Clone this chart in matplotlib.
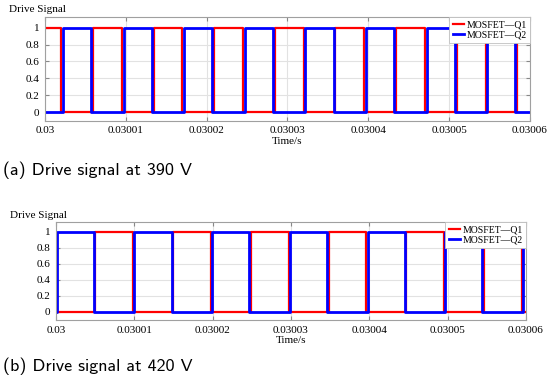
import numpy as np
import matplotlib.pyplot as plt

# 时间轴: 起点 0.03 s, 边沿时刻单位 us
t0 = 0.03
t_end_us = 60.0
x_ticks = [0.03, 0.03001, 0.03002, 0.03003, 0.03004, 0.03005, 0.03006]
x_tick_labels = ["0.03", "0.03001", "0.03002", "0.03003", "0.03004", "0.03005", "0.03006"]
y_ticks = [0, 0.2, 0.4, 0.6, 0.8, 1]
y_tick_labels = ["0", "0.2", "0.4", "0.6", "0.8", "1"]

# (a) 390 V: edge times (us)
q1_390_start = 1
q1_390_edges = [1.98, 5.9, 9.5, 13.45, 17.0, 20.95, 24.5, 28.45, 32.0, 35.9,
                39.5, 43.4, 47.0, 50.95, 54.5, 58.4]
q2_390_start = 0
q2_390_edges = [2.25, 5.7, 9.75, 13.2, 17.2, 20.7, 24.7, 28.2, 32.2, 35.75,
                39.7, 43.2, 47.2, 50.7, 54.7, 58.2]

# (b) 420 V
q1_420_start = 0
q1_420_edges = [5.0, 9.8, 14.95, 19.8, 24.9, 29.7, 34.8, 39.6, 44.7, 49.5,
                54.6, 59.45]
q2_420_start = 0
q2_420_edges = [0.1, 4.8, 10.0, 14.8, 19.95, 24.7, 29.9, 34.6, 39.8, 44.5,
                49.7, 54.4, 59.65]

captions = ["(a) Drive signal at 390 V", "(b) Drive signal at 420 V"]
labels = ["MOSFET\u2014Q1", "MOSFET\u2014Q2"]

SERIF = "Liberation Serif"


def square_wave(start, edges):
    # 边沿列表 -> 阶梯折线
    xs = [0.0]
    ys = [start]
    level = start
    for e in edges:
        xs += [e, e]
        ys += [level, 1 - level]
        level = 1 - level
    xs.append(t_end_us)
    ys.append(level)
    return t0 + np.array(xs) * 1e-6, np.array(ys)


def draw_panel(ax, q1, q2):
    x1, y1 = square_wave(*q1)
    x2, y2 = square_wave(*q2)
    ax.plot(x1, y1, color="#ff0000", lw=1.6, label=labels[0])
    ax.plot(x2, y2, color="#0000ff", lw=2.0, label=labels[1])
    ax.set_xlim(x_ticks[0], x_ticks[-1])
    ax.set_ylim(-0.1, 1.125)
    ax.set_xticks(x_ticks)
    ax.set_xticklabels(x_tick_labels, fontfamily=SERIF, fontsize=8)
    ax.set_yticks(y_ticks)
    ax.set_yticklabels(y_tick_labels, fontfamily=SERIF, fontsize=8)
    ax.tick_params(direction="in", length=3, width=0.8, color="#888888",
                   top=True, right=True, pad=4)
    ax.grid(color="#e2e2e2", lw=0.8)
    ax.set_axisbelow(True)
    for sp in ax.spines.values():
        sp.set_color("#a0a0a0")
        sp.set_linewidth(0.8)
    ax.set_xlabel("Time/s", fontfamily=SERIF, fontsize=8, labelpad=1)
    leg = ax.legend(loc="upper right", borderaxespad=0, fancybox=False,
                    framealpha=1, edgecolor="#c0c0c0",
                    prop={"family": SERIF, "size": 7},
                    handlelength=1.2, handletextpad=0.2, labelspacing=0.1,
                    borderpad=0.35)
    leg.get_frame().set_linewidth(0.6)


fig = plt.figure(figsize=(5.5, 3.86), dpi=100)

ax_a = fig.add_axes([0.0818, 0.687, 0.8818, 0.269])
draw_panel(ax_a, (q1_390_start, q1_390_edges), (q2_390_start, q2_390_edges))
ax_b = fig.add_axes([0.1018, 0.171, 0.8545, 0.254])
draw_panel(ax_b, (q1_420_start, q1_420_edges), (q2_420_start, q2_420_edges))

fig.text(9 / 550, 1 - 9 / 386, "Drive Signal", fontfamily=SERIF, fontsize=8,
         va="center", ha="left")
fig.text(10 / 550, 1 - 216 / 386, "Drive Signal", fontfamily=SERIF, fontsize=8,
         va="center", ha="left")

fig.text(3 / 550, 1 - 170 / 386, captions[0], fontfamily="cmss10", fontsize=13,
         va="center", ha="left")
fig.text(3 / 550, 1 - 366 / 386, captions[1], fontfamily="cmss10", fontsize=13,
         va="center", ha="left")

plt.savefig("out.png", dpi=100)
plt.close()
